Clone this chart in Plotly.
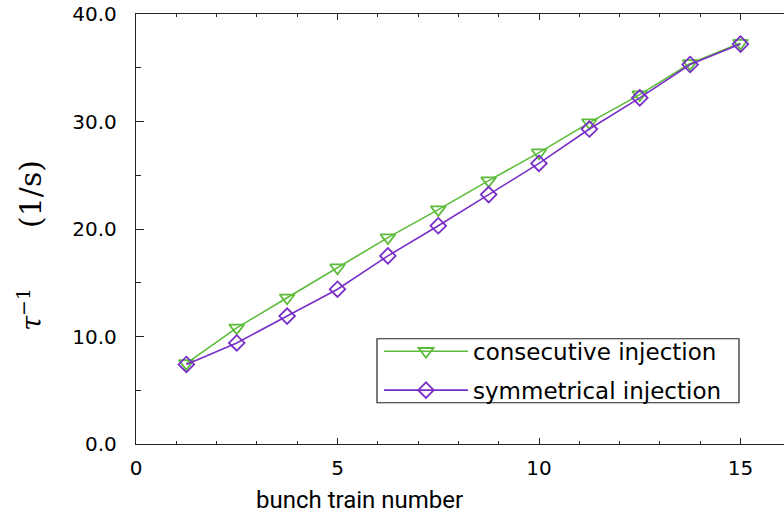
import plotly.graph_objects as go

# data
train_number = [1.25, 2.5, 3.75, 5.0, 6.25, 7.5, 8.75, 10.0, 11.25, 12.5, 13.75, 15.0]
consecutive = [7.5, 10.8, 13.6, 16.4, 19.2, 21.8, 24.5, 27.1, 29.9, 32.5, 35.4, 37.3]
symmetrical = [7.4, 9.4, 11.9, 14.4, 17.5, 20.3, 23.2, 26.1, 29.3, 32.2, 35.3, 37.2]
series_names = ["consecutive injection", "symmetrical injection"]
y_ticks = [0, 10, 20, 30, 40]
y_tick_text = ["0.0", "10.0", "20.0", "30.0", "40.0"]
x_ticks = [0, 5, 10, 15]
x_minor_ticks = [0, 1, 2, 3, 4, 5, 6, 7, 8, 9, 10, 11, 12, 13, 14, 15]

GREEN = "#5cbb3a"
PURPLE = "#7a2ec8"

fig = go.Figure()
fig.add_trace(go.Scatter(
    x=train_number, y=consecutive, name=series_names[0], mode="lines+markers",
    legendgroup="a",
    line=dict(color=GREEN, width=1.6),
    marker=dict(symbol="triangle-down-open", size=13, color=GREEN, line=dict(width=1.8, color=GREEN)),
))
fig.add_trace(go.Scatter(
    x=train_number, y=symmetrical, name=series_names[1], mode="lines+markers",
    legendgroup="b",
    line=dict(color=PURPLE, width=1.6),
    marker=dict(symbol="diamond-open", size=12, color=PURPLE, line=dict(width=1.8, color=PURPLE)),
))

# page body margin is removed by post_script below
W, H = 784, 519
L, T = 136, 14
BOTTOM_PX = 444.3
B = H - BOTTOM_PX
pw = W - L
ph = H - T - B


def px_x(px):
    return (px - L) / pw


def px_y(py):
    return (BOTTOM_PX - py) / ph


fig.update_layout(
    width=W, height=H,
    margin=dict(l=L, r=0, t=T, b=B, pad=0, autoexpand=False),
    paper_bgcolor="white", plot_bgcolor="white",
    font=dict(family="DejaVu Sans", size=20, color="black"),
    showlegend=True,
    legend=dict(
        x=px_x(379), y=px_y(330), xanchor="left", yanchor="top",
        borderwidth=0, bgcolor="rgba(0,0,0,0)",
        font=dict(family="DejaVu Sans", size=23, color="black"),
        itemwidth=84, tracegroupgap=6,
    ),
    shapes=[
        dict(type="rect", xref="paper", yref="paper", layer="above",
             x0=px_x(377), x1=px_x(739), y0=px_y(403), y1=px_y(339),
             line=dict(color="#222", width=1.2), fillcolor="rgba(0,0,0,0)"),
    ],
    xaxis=dict(
        range=[0, pw / 40.3], tickmode="array", tickvals=x_ticks, automargin=False,
        ticks="inside", ticklen=6, tickwidth=1.2, tickcolor="#222",
        showline=True, linecolor="#222", linewidth=1.4, mirror="ticks",
        showgrid=False, zeroline=False, ticklabelstandoff=6,
        tickfont=dict(family="DejaVu Sans", size=20, color="black"),
        minor=dict(tickmode="array", tickvals=x_minor_ticks, ticks="inside", ticklen=3,
                   tickwidth=1.2, tickcolor="#222", showgrid=False),
    ),
    yaxis=dict(
        range=[0, 40], tickmode="array", tickvals=y_ticks, ticktext=y_tick_text, automargin=False,
        ticks="inside", ticklen=8, tickwidth=1.2, tickcolor="#222",
        showline=True, linecolor="#222", linewidth=1.4, mirror=False,
        showgrid=False, zeroline=False, ticklabelstandoff=14, ticklabeloverflow="allow",
        tickfont=dict(family="DejaVu Sans", size=20, color="black"),
        minor=dict(dtick=5, ticks="inside", ticklen=5, tickwidth=1.2, tickcolor="#222", showgrid=False),
    ),
    annotations=[
        dict(text="bunch train number", xref="paper", yref="paper",
             x=px_x(359), y=px_y(500), xanchor="center", yanchor="middle",
             showarrow=False, font=dict(family="Roboto", size=24, color="black")),
        dict(text="<i>τ</i><sup>−1</sup>       <span style='font-size:30px'>(1/s)</span>",
             xref="paper", yref="paper",
             x=px_x(30), y=px_y(246), xanchor="center", yanchor="middle",
             textangle=-90, showarrow=False,
             font=dict(family="DejaVu Serif", size=27, color="black")),
    ],
)

fig.write_html(
    "out.html",
    config={"displayModeBar": False},
    post_script="document.body.style.margin='0px';document.body.style.overflow='hidden';",
)
